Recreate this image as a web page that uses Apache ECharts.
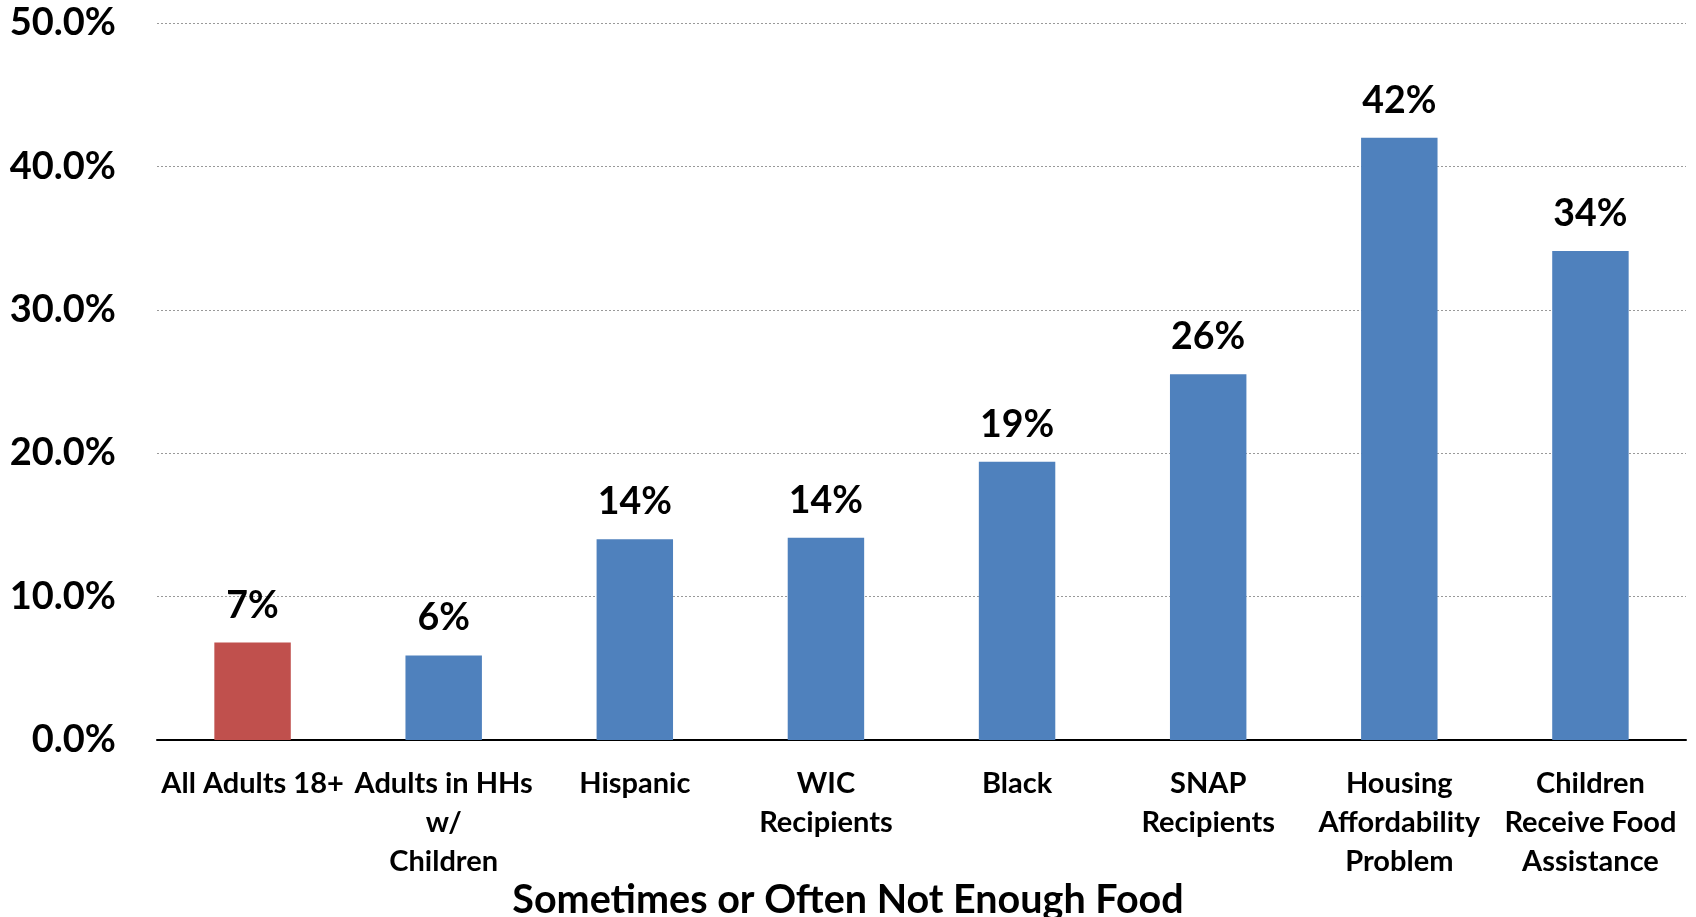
<!DOCTYPE html>
<html>
<head>
<meta charset="utf-8">
<script src="https://cdn.jsdelivr.net/npm/echarts@6/dist/echarts.min.js"></script>
<style>html,body{margin:0;padding:0;background:#fff}#c{width:1696px;height:917px}</style>
</head>
<body>
<div id="c"></div>
<script>
const categories = ["All Adults 18+", "Adults in HHs\nw/\nChildren", "Hispanic", "WIC\nRecipients", "Black", "SNAP\nRecipients", "Housing\nAffordability\nProblem", "Children\nReceive Food\nAssistance"];
const values = [6.8, 5.9, 14.0, 14.1, 19.4, 25.5, 42.0, 34.1];
const barColors = ["#C0504D", "#4F81BD", "#4F81BD", "#4F81BD", "#4F81BD", "#4F81BD", "#4F81BD", "#4F81BD"];
const axisTitle = "Sometimes or Often Not Enough Food";

const FONT = "Lato";
const chart = echarts.init(document.getElementById('c'), null, {renderer: 'canvas'});
chart.setOption({
  animation: false,
  backgroundColor: '#ffffff',
  title: {
    text: axisTitle,
    left: 'center',
    top: 875,
    textStyle: {fontFamily: FONT, fontWeight: 'bold', fontSize: 39.5, color: '#000'}
  },
  grid: {left: 157, right: 10, top: 23, bottom: 177, containLabel: false},
  xAxis: {
    type: 'category',
    data: categories,
    axisLine: {lineStyle: {color: '#000', width: 2}},
    axisTick: {show: false},
    axisLabel: {
      interval: 0, margin: 24, color: '#000',
      fontFamily: FONT, fontWeight: 'bold', fontSize: 29, lineHeight: 39
    }
  },
  yAxis: {
    type: 'value', min: 0, max: 50, interval: 10,
    axisLine: {show: false},
    axisTick: {show: false},
    splitLine: {lineStyle: {color: '#999', type: [2, 2], width: 1}},
    axisLabel: {
      margin: 41, color: '#000', fontFamily: FONT, fontWeight: 'bold', fontSize: 38,
      formatter: v => v.toFixed(1) + '%'
    }
  },
  series: [{
    type: 'bar',
    data: values.map((v, i) => ({value: v, itemStyle: {color: barColors[i]}})),
    barCategoryGap: '60%',
    label: {
      show: true, position: 'top', distance: 18, color: '#000',
      fontFamily: FONT, fontWeight: 'bold', fontSize: 37.5,
      formatter: p => Math.round(p.value) + '%'
    }
  }]
});
</script>
</body>
</html>
